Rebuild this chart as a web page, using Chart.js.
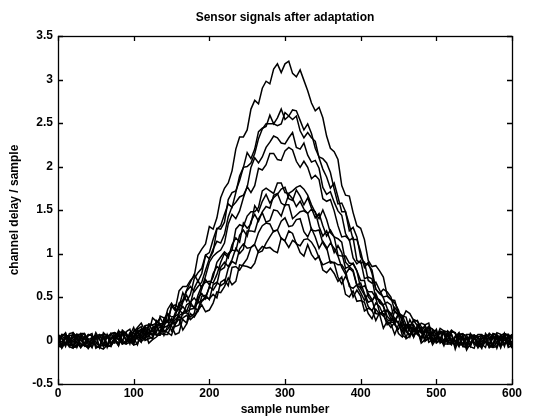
<!DOCTYPE html>
<html>
<head>
<meta charset="utf-8">
<script src="https://cdn.jsdelivr.net/npm/chart.js@4/dist/chart.umd.min.js"></script>
<style>
  body { margin: 0; background: #fff; }
  canvas { display: block; }
</style>
</head>
<body>
<canvas id="sensorChart" width="554" height="420"></canvas>
<script>
// sample positions: every 10th sample, plus the samples halfway between them
const samples = [0, 10, 20, 30, 40, 50, 60, 70, 80, 90, 100, 110, 120, 130, 140, 150, 160, 170, 180, 190,
  200, 210, 220, 230, 240, 250, 260, 270, 280, 290, 300, 310, 320, 330, 340, 350, 360, 370, 380, 390,
  400, 410, 420, 430, 440, 450, 460, 470, 480, 490, 500, 510, 520, 530, 540, 550, 560, 570, 580, 590, 600];
const midSamples = [5, 15, 25, 35, 45, 55, 65, 75, 85, 95, 105, 115, 125, 135, 145, 155, 165, 175, 185, 195,
  205, 215, 225, 235, 245, 255, 265, 275, 285, 295, 305, 315, 325, 335, 345, 355, 365, 375, 385, 395,
  405, 415, 425, 435, 445, 455, 465, 475, 485, 495, 505, 515, 525, 535, 545, 555, 565, 575, 585, 595];

// channel delays, one pair of arrays per sensor
const ch1 = [0.07, -0.04, 0.09, -0.08, 0.02, 0.06, -0.07, -0.02, 0.11, 0.00, 0.10, 0.20, 0.09, 0.22, 0.20, 0.43, 0.57, 0.62, 0.74, 1.05,
  1.31, 1.41, 1.75, 1.95, 2.34, 2.42, 2.76, 2.90, 2.95, 3.18, 3.18, 3.07, 3.11, 2.87, 2.64, 2.56, 2.21, 2.08, 1.67, 1.47,
  1.29, 0.92, 0.86, 0.73, 0.47, 0.31, 0.34, 0.23, 0.09, 0.20, 0.03, 0.11, -0.05, 0.03, 0.07, -0.05, -0.01, 0.08, -0.07, 0.04, -0.03];
const ch1mid = [-0.06, 0.08, -0.03, 0.05, -0.08, 0.02, 0.07, -0.03, 0.08, -0.01, 0.15, 0.11, 0.26, 0.19, 0.36, 0.36, 0.62, 0.69, 0.98, 1.11,
  1.28, 1.64, 1.81, 2.20, 2.34, 2.66, 2.72, 2.98, 3.12, 3.08, 3.21, 3.03, 2.99, 2.73, 2.68, 2.35, 2.17, 1.78, 1.66, 1.32,
  1.16, 0.85, 0.80, 0.52, 0.46, 0.25, 0.31, 0.17, 0.18, 0.02, 0.14, 0.00, 0.05, -0.06, 0.07, -0.02, 0.04, -0.08, 0.06, -0.05];

const ch2 = [-0.05, 0.08, 0.01, -0.07, 0.06, -0.09, 0.03, 0.07, 0.01, -0.02, 0.15, 0.05, 0.18, 0.09, 0.26, 0.39, 0.37, 0.58, 0.76, 0.77,
  1.01, 1.29, 1.36, 1.70, 1.84, 2.16, 2.20, 2.44, 2.59, 2.56, 2.54, 2.65, 2.53, 2.49, 2.21, 2.09, 1.93, 1.57, 1.48, 1.30,
  0.96, 0.87, 0.59, 0.59, 0.50, 0.30, 0.18, 0.24, 0.16, 0.01, 0.11, 0.01, 0.12, -0.06, 0.02, 0.06, -0.08, 0.01, 0.05, -0.04, 0.07];
const ch2mid = [0.05, -0.07, 0.02, -0.04, 0.08, -0.06, 0.03, 0.09, -0.04, 0.06, 0.03, 0.17, 0.12, 0.28, 0.21, 0.41, 0.46, 0.67, 0.68, 0.98,
  1.16, 1.28, 1.62, 1.72, 1.99, 2.09, 2.40, 2.46, 2.49, 2.66, 2.58, 2.64, 2.42, 2.38, 2.11, 2.04, 1.74, 1.58, 1.26, 1.19,
  0.89, 0.81, 0.54, 0.56, 0.34, 0.29, 0.14, 0.22, 0.06, 0.12, -0.03, 0.06, 0.08, -0.03, -0.07, 0.05, -0.01, 0.08, -0.06, 0.03];

const ch3 = [0.03, -0.07, 0.06, 0.02, -0.09, 0.05, -0.03, 0.08, -0.03, 0.08, 0.05, 0.01, 0.19, 0.20, 0.18, 0.40, 0.39, 0.45, 0.71, 0.83,
  0.94, 1.28, 1.45, 1.53, 1.89, 2.00, 2.15, 2.43, 2.49, 2.47, 2.62, 2.54, 2.41, 2.39, 2.29, 1.97, 1.75, 1.65, 1.48, 1.16,
  1.02, 0.90, 0.59, 0.50, 0.47, 0.35, 0.14, 0.22, 0.09, 0.16, 0.07, -0.03, 0.07, 0.08, -0.05, -0.02, 0.06, -0.08, 0.03, 0.07, -0.06];
const ch3mid = [0.02, 0.06, -0.08, 0.04, -0.03, 0.07, -0.06, 0.01, 0.12, 0.01, 0.13, 0.04, 0.18, 0.26, 0.22, 0.34, 0.55, 0.53, 0.78, 0.98,
  1.02, 1.32, 1.57, 1.70, 1.99, 2.04, 2.32, 2.49, 2.49, 2.49, 2.58, 2.58, 2.33, 2.33, 2.10, 1.88, 1.81, 1.48, 1.33, 1.16,
  0.84, 0.77, 0.54, 0.51, 0.43, 0.21, 0.17, 0.23, 0.09, 0.13, -0.01, 0.11, -0.02, 0.01, 0.06, -0.08, 0.05, -0.03, 0.02, 0.07];

const ch4 = [-0.08, 0.04, -0.02, 0.07, 0.01, -0.06, 0.09, -0.04, 0.05, 0.10, -0.02, 0.11, 0.08, 0.23, 0.15, 0.27, 0.43, 0.57, 0.56, 0.67,
  0.94, 1.14, 1.22, 1.54, 1.65, 1.76, 2.10, 2.11, 2.28, 2.33, 2.26, 2.39, 2.20, 2.13, 2.07, 1.76, 1.71, 1.49, 1.23, 1.18,
  0.89, 0.69, 0.67, 0.49, 0.29, 0.32, 0.27, 0.10, 0.20, 0.06, -0.01, 0.09, 0.02, -0.07, 0.06, 0.03, -0.04, 0.08, -0.09, 0.02, 0.05];
const ch4mid = [-0.04, -0.01, 0.07, -0.06, 0.03, -0.08, 0.05, 0.04, -0.01, 0.13, 0.04, 0.14, 0.06, 0.19, 0.31, 0.28, 0.46, 0.62, 0.62, 0.81,
  1.05, 1.12, 1.42, 1.59, 1.67, 1.99, 2.04, 2.22, 2.35, 2.27, 2.33, 2.22, 2.27, 2.05, 1.98, 1.68, 1.59, 1.44, 1.15, 0.92,
  0.90, 0.66, 0.58, 0.37, 0.38, 0.28, 0.11, 0.14, 0.18, 0.03, 0.11, -0.01, 0.00, 0.07, -0.03, 0.04, -0.08, 0.05, 0.02, -0.06];

const ch5 = [-0.03, 0.04, -0.07, 0.08, -0.01, -0.05, 0.07, 0.03, -0.06, 0.09, 0.01, 0.16, 0.04, 0.16, 0.25, 0.19, 0.31, 0.52, 0.60, 0.60,
  0.90, 1.01, 1.12, 1.45, 1.49, 1.77, 1.78, 1.96, 2.15, 2.08, 2.18, 2.19, 1.99, 1.99, 1.90, 1.63, 1.62, 1.32, 1.20, 0.95,
  0.92, 0.73, 0.48, 0.41, 0.41, 0.31, 0.11, 0.15, 0.04, 0.16, 0.08, -0.02, 0.10, -0.02, -0.07, 0.06, 0.02, -0.08, 0.09, -0.04, 0.07];
const ch5mid = [-0.07, 0.04, -0.05, 0.08, -0.03, 0.06, -0.08, 0.03, 0.08, -0.02, 0.13, 0.05, 0.15, 0.10, 0.31, 0.28, 0.44, 0.42, 0.69, 0.74,
  0.97, 1.04, 1.34, 1.40, 1.64, 1.70, 1.98, 2.02, 2.15, 2.07, 2.22, 2.06, 2.06, 1.86, 1.85, 1.60, 1.49, 1.19, 1.16, 0.88,
  0.71, 0.71, 0.47, 0.44, 0.22, 0.25, 0.24, 0.07, 0.13, -0.01, 0.10, 0.01, 0.09, -0.06, 0.03, -0.08, 0.05, -0.04, 0.07, -0.01];

const ch6 = [0.07, -0.04, 0.05, 0.01, -0.08, 0.06, 0.02, -0.06, 0.11, 0.00, 0.09, -0.02, 0.12, 0.19, 0.10, 0.20, 0.36, 0.41, 0.37, 0.60,
  0.64, 0.90, 1.02, 1.04, 1.33, 1.43, 1.48, 1.72, 1.72, 1.81, 1.70, 1.72, 1.78, 1.67, 1.47, 1.50, 1.24, 1.17, 0.90, 0.89,
  0.69, 0.50, 0.54, 0.40, 0.23, 0.29, 0.18, 0.04, 0.14, 0.02, 0.13, -0.03, 0.00, 0.07, 0.03, -0.09, 0.06, -0.07, 0.01, 0.08, -0.05];
const ch6mid = [0.03, -0.06, 0.07, -0.04, 0.02, -0.08, 0.06, 0.00, -0.04, 0.09, 0.02, 0.16, 0.06, 0.18, 0.13, 0.32, 0.30, 0.44, 0.44, 0.70,
  0.73, 0.96, 0.98, 1.28, 1.31, 1.48, 1.53, 1.75, 1.69, 1.81, 1.69, 1.76, 1.74, 1.56, 1.40, 1.39, 1.19, 1.13, 0.85, 0.80,
  0.69, 0.45, 0.43, 0.28, 0.33, 0.13, 0.17, 0.18, 0.00, 0.06, -0.01, 0.09, -0.02, 0.08, -0.07, 0.04, -0.02, 0.06, -0.08, 0.05];

const ch7 = [-0.06, 0.07, 0.03, -0.08, 0.06, -0.02, -0.05, 0.08, 0.06, -0.04, 0.05, 0.13, 0.05, 0.16, 0.06, 0.25, 0.33, 0.33, 0.37, 0.63,
  0.68, 0.76, 1.00, 1.10, 1.13, 1.29, 1.55, 1.60, 1.58, 1.68, 1.76, 1.61, 1.66, 1.64, 1.41, 1.32, 1.27, 0.98, 0.97, 0.88,
  0.60, 0.56, 0.49, 0.28, 0.25, 0.30, 0.10, 0.14, 0.15, -0.02, 0.03, 0.07, -0.04, 0.08, -0.03, 0.05, -0.09, 0.02, 0.06, -0.07, 0.03];
const ch7mid = [-0.08, 0.01, 0.05, -0.03, 0.06, -0.07, 0.04, 0.09, 0.01, -0.02, 0.08, 0.14, 0.02, 0.18, 0.17, 0.19, 0.39, 0.36, 0.52, 0.67,
  0.66, 0.90, 0.95, 1.18, 1.35, 1.34, 1.48, 1.68, 1.64, 1.74, 1.63, 1.73, 1.56, 1.52, 1.46, 1.20, 1.19, 0.97, 0.89, 0.80,
  0.63, 0.56, 0.32, 0.35, 0.21, 0.25, 0.07, 0.09, 0.15, 0.01, 0.09, -0.04, 0.04, 0.06, -0.05, -0.02, 0.08, -0.06, 0.04, 0.07];

const ch8 = [0.05, 0.02, -0.09, 0.08, -0.04, 0.03, 0.06, -0.07, 0.01, 0.08, -0.02, 0.04, 0.17, 0.06, 0.21, 0.24, 0.18, 0.34, 0.49, 0.46,
  0.61, 0.85, 0.84, 1.04, 1.21, 1.20, 1.45, 1.48, 1.52, 1.69, 1.55, 1.63, 1.60, 1.46, 1.48, 1.20, 1.15, 1.09, 0.83, 0.81,
  0.66, 0.44, 0.51, 0.39, 0.22, 0.19, 0.18, 0.05, 0.09, 0.15, -0.02, 0.10, -0.01, 0.03, -0.07, 0.06, 0.02, -0.04, 0.07, 0.04, -0.08];
const ch8mid = [0.05, -0.07, 0.04, 0.02, -0.08, 0.06, -0.04, 0.04, 0.10, -0.01, 0.06, 0.01, 0.18, 0.10, 0.23, 0.16, 0.32, 0.44, 0.43, 0.50,
  0.77, 0.81, 1.00, 1.03, 1.27, 1.37, 1.37, 1.54, 1.67, 1.58, 1.68, 1.54, 1.51, 1.51, 1.31, 1.26, 1.01, 1.01, 0.85, 0.64,
  0.54, 0.46, 0.45, 0.24, 0.26, 0.10, 0.18, 0.12, 0.02, 0.13, 0.01, 0.07, -0.06, 0.01, 0.06, -0.05, 0.03, 0.08, -0.06, -0.02];

const ch9 = [0.03, 0.09, -0.06, 0.01, -0.09, 0.05, 0.07, -0.03, -0.06, 0.06, 0.11, -0.01, 0.09, 0.06, 0.23, 0.11, 0.29, 0.32, 0.31, 0.54,
  0.62, 0.65, 0.90, 0.93, 1.00, 1.26, 1.25, 1.47, 1.38, 1.49, 1.56, 1.40, 1.48, 1.46, 1.26, 1.12, 1.12, 0.97, 0.76, 0.79,
  0.55, 0.54, 0.31, 0.34, 0.31, 0.13, 0.13, 0.18, 0.00, 0.09, 0.00, 0.09, -0.02, 0.09, -0.08, 0.02, 0.06, -0.07, -0.02, 0.08, -0.05];
const ch9mid = [0.04, -0.06, 0.07, -0.05, 0.02, -0.08, 0.06, 0.00, 0.07, -0.04, 0.12, 0.02, 0.11, 0.06, 0.23, 0.19, 0.31, 0.27, 0.49, 0.48,
  0.58, 0.84, 0.85, 1.06, 1.05, 1.26, 1.40, 1.36, 1.50, 1.43, 1.56, 1.44, 1.49, 1.27, 1.27, 1.05, 1.06, 0.84, 0.83, 0.63,
  0.46, 0.47, 0.30, 0.35, 0.18, 0.22, 0.04, 0.10, 0.11, -0.02, 0.10, -0.02, 0.04, -0.07, 0.08, -0.02, 0.05, -0.08, 0.06, -0.03];

const ch10 = [-0.01, 0.06, -0.08, 0.05, -0.03, 0.09, -0.06, 0.03, 0.08, -0.02, -0.05, 0.10, 0.08, 0.17, 0.07, 0.18, 0.28, 0.20, 0.39, 0.51,
  0.47, 0.67, 0.66, 0.91, 1.05, 1.06, 1.11, 1.32, 1.34, 1.27, 1.41, 1.32, 1.40, 1.19, 1.19, 1.14, 0.89, 0.87, 0.80, 0.60,
  0.60, 0.39, 0.43, 0.29, 0.15, 0.22, 0.03, 0.12, 0.14, 0.03, -0.03, 0.11, -0.03, 0.05, -0.08, 0.02, 0.07, -0.05, 0.04, 0.08, -0.07];
const ch10mid = [-0.04, 0.05, -0.07, 0.08, -0.03, 0.01, -0.06, 0.08, -0.03, 0.07, -0.04, 0.08, 0.14, 0.08, 0.07, 0.24, 0.24, 0.40, 0.34, 0.52,
  0.64, 0.63, 0.83, 0.88, 1.11, 1.07, 1.24, 1.35, 1.25, 1.37, 1.31, 1.39, 1.25, 1.29, 1.06, 1.07, 0.90, 0.87, 0.62, 0.64,
  0.52, 0.34, 0.39, 0.21, 0.21, 0.06, 0.17, 0.07, -0.01, 0.09, 0.00, 0.10, -0.04, 0.04, -0.06, 0.07, -0.02, 0.03, -0.08, 0.06];

const ch11 = [0.04, -0.02, -0.08, 0.02, 0.07, -0.07, -0.10, 0.01, 0.06, -0.04, 0.03, 0.10, -0.03, 0.04, 0.15, 0.17, 0.09, 0.29, 0.28, 0.45,
  0.48, 0.49, 0.70, 0.84, 0.81, 0.94, 1.10, 1.03, 1.19, 1.27, 1.15, 1.23, 1.09, 1.17, 1.06, 0.87, 0.91, 0.73, 0.74, 0.50,
  0.51, 0.37, 0.23, 0.31, 0.21, 0.08, 0.18, 0.04, -0.03, 0.07, 0.02, -0.06, 0.07, 0.02, -0.11, 0.04, -0.04, -0.07, 0.06, 0.00, -0.09];
const ch11mid = [-0.09, 0.01, -0.07, 0.02, 0.05, -0.08, -0.05, 0.06, -0.03, 0.05, -0.05, 0.10, 0.01, 0.08, 0.17, 0.07, 0.26, 0.24, 0.36, 0.49,
  0.53, 0.67, 0.63, 0.85, 0.88, 1.07, 1.01, 1.12, 1.26, 1.17, 1.26, 1.11, 1.16, 1.13, 0.95, 0.89, 0.89, 0.65, 0.65, 0.58,
  0.34, 0.35, 0.32, 0.18, 0.21, 0.04, 0.11, 0.13, 0.01, -0.05, 0.03, 0.06, -0.10, 0.03, -0.03, -0.07, 0.06, -0.06, 0.00, 0.04];

const ch12 = [-0.01, 0.06, 0.09, -0.04, -0.08, 0.03, 0.05, -0.06, 0.08, 0.01, -0.05, 0.13, 0.02, 0.11, 0.12, 0.06, 0.25, 0.19, 0.27, 0.41,
  0.35, 0.56, 0.62, 0.64, 0.87, 0.85, 0.89, 1.08, 1.07, 1.01, 1.14, 1.15, 1.01, 1.10, 0.93, 0.81, 0.83, 0.68, 0.53, 0.57,
  0.46, 0.31, 0.36, 0.14, 0.19, 0.18, 0.02, 0.11, 0.03, 0.11, 0.04, -0.04, 0.10, -0.04, 0.02, 0.06, -0.07, 0.03, -0.03, 0.08, -0.06];
const ch12mid = [0.07, -0.02, 0.04, -0.06, 0.05, 0.03, -0.07, 0.02, 0.10, -0.01, 0.10, 0.00, 0.04, 0.16, 0.09, 0.19, 0.12, 0.31, 0.34, 0.33,
  0.43, 0.55, 0.72, 0.68, 0.86, 0.83, 1.03, 1.06, 1.03, 1.18, 1.07, 1.12, 0.97, 0.99, 0.97, 0.78, 0.77, 0.73, 0.50, 0.45,
  0.44, 0.25, 0.30, 0.22, 0.07, 0.18, 0.05, 0.09, 0.12, -0.01, 0.04, -0.04, 0.09, -0.03, 0.05, -0.07, 0.02, 0.06, -0.04, -0.08];

const channels = [ch1, ch2, ch3, ch4, ch5, ch6, ch7, ch8, ch9, ch10, ch11, ch12];
const channelMids = [ch1mid, ch2mid, ch3mid, ch4mid, ch5mid, ch6mid, ch7mid, ch8mid, ch9mid, ch10mid, ch11mid, ch12mid];

const boldFont = { family: 'Liberation Sans, Arial, sans-serif', size: 12, weight: 'bold' };

// merge the two sample grids of one channel into one x/y list
function toPoints(ch, mid) {
  const pts = [];
  ch.forEach((v, i) => {
    pts.push({ x: samples[i], y: v });
    if (i < mid.length) pts.push({ x: midSamples[i], y: mid[i] });
  });
  return pts;
}

// MATLAB-ish box with inward ticks on all four sides, plus the title
const matlabAxes = {
  id: 'matlabAxes',
  afterDraw(chart) {
    const { ctx, chartArea: a, scales } = chart;
    ctx.save();
    ctx.strokeStyle = '#000';
    ctx.lineWidth = 1.3;
    ctx.strokeRect(a.left + 0.5, a.top + 0.5, a.right - a.left, a.bottom - a.top);
    ctx.beginPath();
    scales.x.ticks.forEach(t => {
      const px = Math.round(scales.x.getPixelForValue(t.value)) + 0.5;
      ctx.moveTo(px, a.bottom); ctx.lineTo(px, a.bottom - 5);
      ctx.moveTo(px, a.top); ctx.lineTo(px, a.top + 5);
    });
    scales.y.ticks.forEach(t => {
      const py = Math.round(scales.y.getPixelForValue(t.value)) + 0.5;
      ctx.moveTo(a.left, py); ctx.lineTo(a.left + 5, py);
      ctx.moveTo(a.right, py); ctx.lineTo(a.right - 5, py);
    });
    ctx.stroke();
    ctx.fillStyle = '#000';
    ctx.font = 'bold 12px "Liberation Sans", Arial, sans-serif';
    ctx.textAlign = 'center';
    ctx.textBaseline = 'middle';
    ctx.fillText('Sensor signals after adaptation', (a.left + a.right) / 2, 18);
    ctx.restore();
  }
};

new Chart(document.getElementById('sensorChart'), {
  type: 'line',
  data: {
    datasets: channels.map((ch, k) => ({
      data: toPoints(ch, channelMids[k]),
      borderColor: '#000',
      borderWidth: 1.5,
      pointRadius: 0,
      tension: 0,
      fill: false
    }))
  },
  options: {
    responsive: false,
    animation: false,
    layout: { padding: { top: 36, right: 42, left: 0, bottom: 0 } },
    plugins: {
      legend: { display: false },
      tooltip: { enabled: false }
    },
    scales: {
      x: {
        type: 'linear',
        min: 0,
        max: 600,
        afterFit: s => { s.height = 36; },
        grid: { display: false, drawTicks: false },
        border: { display: false },
        ticks: { stepSize: 100, color: '#000', font: boldFont, padding: 2, maxRotation: 0 },
        title: { display: true, text: 'sample number', color: '#000', font: boldFont, padding: { top: 0, bottom: 3 } }
      },
      y: {
        min: -0.5,
        max: 3.5,
        afterFit: s => { s.width = 58; },
        grid: { display: false, drawTicks: false },
        border: { display: false },
        ticks: { stepSize: 0.5, color: '#000', font: boldFont, padding: 5, callback: v => String(Number(v.toFixed(1))) },
        title: { display: true, text: 'channel delay / sample', color: '#000', font: boldFont, padding: { top: 7, bottom: 0 } }
      }
    }
  },
  plugins: [matlabAxes]
});
</script>
</body>
</html>
